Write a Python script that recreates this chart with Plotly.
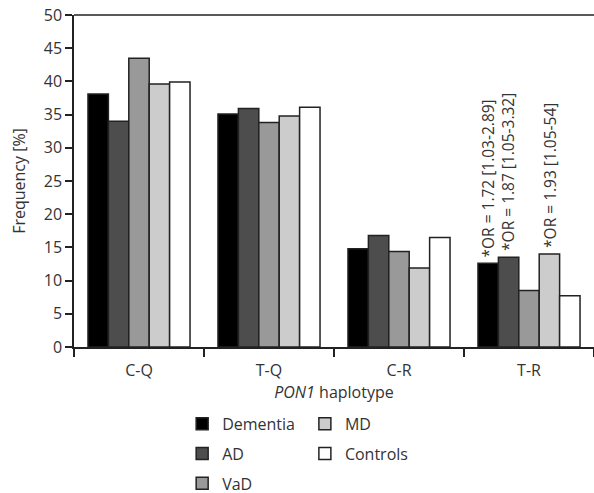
import plotly.graph_objects as go

categories = ["C-Q", "T-Q", "C-R", "T-R"]
series_names = ["Dementia", "AD", "VaD", "MD", "Controls"]
dementia = [38.1, 35.1, 14.8, 12.6]
ad = [34.0, 35.9, 16.8, 13.5]
vad = [43.5, 33.8, 14.4, 8.5]
md = [39.6, 34.8, 11.9, 14.0]
controls = [39.9, 36.1, 16.5, 7.7]
values = [dementia, ad, vad, md, controls]
colors = ["#000000", "#4d4d4d", "#999999", "#cccccc", "#ffffff"]
legend_ids = ["legend", "legend", "legend", "legend2", "legend2"]

or_labels = ["*OR = 1.72 [1.03-2.89]", "*OR = 1.87 [1.05-3.32]", "*OR = 1.93 [1.05-54]"]
or_series = [0, 1, 3]  # Dementia, AD, MD in T-R

FONT = "Open Sans"
TXT = "#333333"
LINE = "#222222"
bargap = 0.215

fig = go.Figure()
for i, (name, vals) in enumerate(zip(series_names, values)):
    fig.add_trace(go.Bar(
        name=name, x=categories, y=vals,
        marker=dict(color=colors[i], line=dict(color=LINE, width=1.5)),
        legend=legend_ids[i], legendgroup=name,
    ))

bw = (1 - bargap) / len(series_names)
for lab, si in zip(or_labels, or_series):
    xpos = 3 + (si - 2) * bw
    fig.add_annotation(
        x=xpos, y=values[si][3], xref="x", yref="y",
        text=lab, showarrow=False, textangle=-90,
        xanchor="center", yanchor="bottom", yshift=4,
        font=dict(family=FONT, size=15.5, color=TXT),
    )

# top frame line of the plot area
fig.add_shape(type="line", xref="paper", yref="paper", x0=0, x1=1, y0=1, y1=1,
              line=dict(color=LINE, width=1.5))

fig.update_layout(
    width=594, height=493,
    margin=dict(l=74, r=0, t=15, b=146, autoexpand=False),
    paper_bgcolor="white", plot_bgcolor="white",
    barmode="group", bargap=bargap, bargroupgap=0,
    font=dict(family=FONT, size=16, color=TXT),
    legend=dict(x=0.208, y=-0.18, xanchor="left", yanchor="top",
                orientation="v", tracegroupgap=6,
                font=dict(family=FONT, size=16, color=TXT), bgcolor="rgba(0,0,0,0)"),
    legend2=dict(x=0.444, y=-0.18, xanchor="left", yanchor="top",
                 orientation="v", tracegroupgap=6,
                 font=dict(family=FONT, size=16, color=TXT), bgcolor="rgba(0,0,0,0)"),
    xaxis=dict(
        type="category", showline=True, linecolor=LINE, linewidth=1.5,
        ticks="outside", tickson="boundaries", ticklen=8,
        tickcolor=LINE, tickwidth=1.5, automargin=False, ticklabelstandoff=8,
        tickfont=dict(family=FONT, size=16, color=TXT),
        title=dict(text="<i>PON1</i> haplotype", standoff=5,
                   font=dict(family=FONT, size=16, color=TXT)),
        showgrid=False, zeroline=False,
    ),
    yaxis=dict(
        range=[0, 50], dtick=5, showline=True, linecolor=LINE, linewidth=1.5,
        ticks="outside", ticklen=7, tickcolor=LINE, tickwidth=1.5,
        automargin=False, ticklabeloverflow="allow",
        tickfont=dict(family=FONT, size=16, color=TXT),
        title=dict(text="Frequency [%]", standoff=14,
                   font=dict(family=FONT, size=16, color=TXT)),
        showgrid=False, zeroline=False,
    ),
)

fig.write_html("out.html", config={"displayModeBar": False},
               post_script="document.body.style.margin='0';document.body.style.overflow='hidden';")
